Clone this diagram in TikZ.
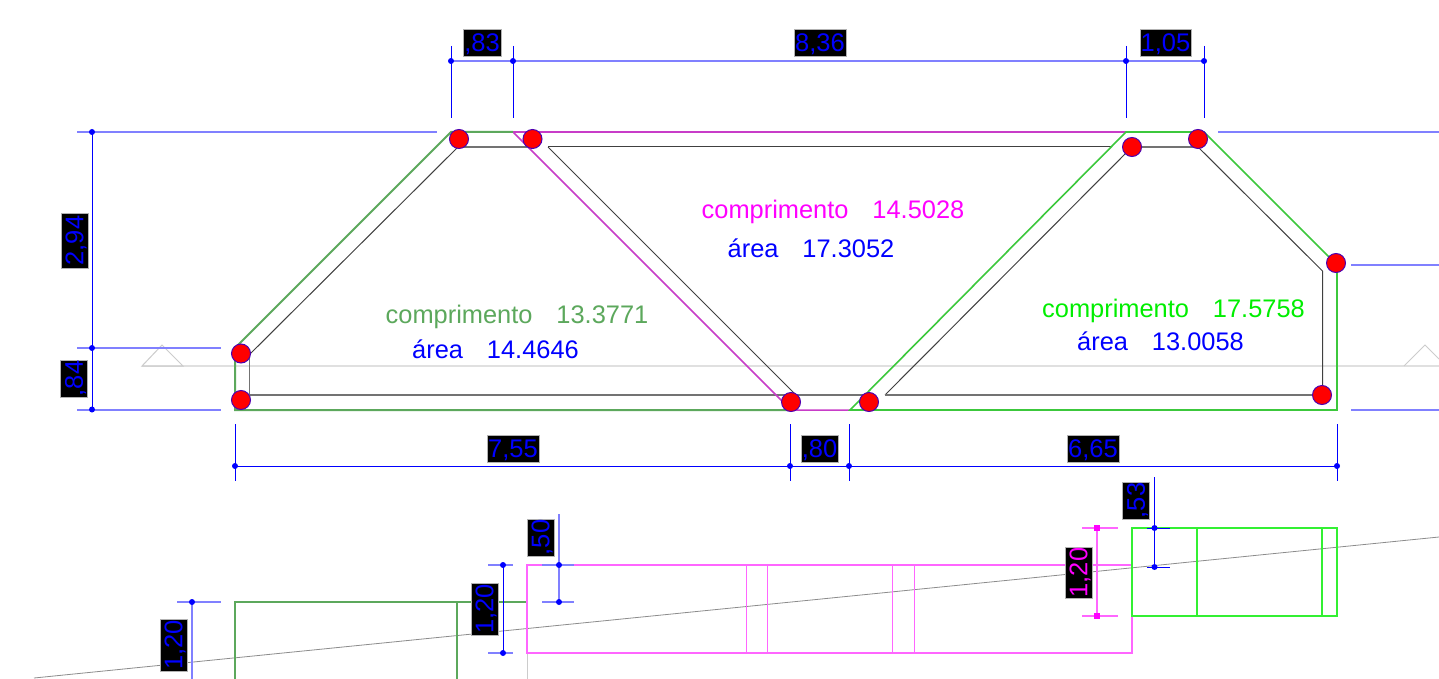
\documentclass[tikz,border=0pt]{standalone}
\usepackage{fontspec}
\setmainfont{Liberation Sans}
\definecolor{dimblue}{HTML}{0000FF}
\definecolor{dimlight}{HTML}{8080FF}
\definecolor{dkgreen}{HTML}{5CA85C}
\definecolor{brgreen}{HTML}{3CC83C}
\definecolor{txgreen}{HTML}{00EE00}
\definecolor{trmag}{HTML}{C83CC8}
\definecolor{puremag}{HTML}{FF00FF}
\definecolor{rectmag}{HTML}{FF66FF}
\definecolor{rectgreen}{HTML}{33F033}
\tikzset{
  x=1pt,y=-1pt,
  dimthin/.style={draw=dimblue,line width=1pt},
  dimthick/.style={draw=dimlight,line width=2pt},
  magdim/.style={draw=rectmag,line width=1.6pt},
  dkline/.style={draw=dkgreen,line width=2pt},
  brline/.style={draw=brgreen,line width=1.6pt},
  magline/.style={draw=trmag,line width=1.5pt},
  inner/.style={draw=black!75,line width=1pt},
  innergray/.style={draw=black!55,line width=1.8pt},
  rectm/.style={draw=rectmag,line width=1.2pt},
  rectg/.style={draw=rectgreen,line width=1.1pt},
  slope/.style={draw=black!45,line width=0.8pt},
  horizon/.style={draw=black!12,line width=1.6pt},
  tri/.style={draw=black!20,line width=1pt},
  dimlabel/.style={fill=black,draw=black!30,line width=0.5pt,text=dimblue,font=\fontsize{25.5}{25.5}\selectfont,inner sep=0pt,minimum height=27pt,text depth=0pt},
  maglabel/.style={dimlabel,text=puremag},
  paneltext/.style={font=\fontsize{25.4}{27}\selectfont,inner sep=0pt,anchor=base},
  joint/.style={circle,fill=red,draw=blue!70!red,line width=1pt,minimum size=19pt,inner sep=0pt},
  dimdot/.style={circle,fill=dimblue,inner sep=0pt,minimum size=6pt},
  magdot/.style={rectangle,fill=puremag,inner sep=0pt,minimum size=5.5pt}
}
\begin{document}
\begin{tikzpicture}
\useasboundingbox[fill=white] (0,0) rectangle (1439,679);

% ground line and supports
\draw[horizon] (142,366) -- (1439,366);
\draw[tri] (142,366) -- (162,345) -- (183,366) -- cycle;
\draw[tri] (1404,366) -- (1425,345) -- (1439,359);

% truss inner outlines
\draw[inner] (250,354) -- (458,147);
\draw[innergray] (458,147) -- (532,147);
\draw[innergray] (249.5,357) -- (249.5,395);
\draw[innergray] (249.5,395) -- (869,395);
\draw[inner] (548,147) -- (1112,147);
\draw[inner] (548,147) -- (796,395);
\draw[inner] (885,395) -- (1127,152);
\draw[innergray] (885,395) -- (1322,395);
\draw[innergray] (1132,147) -- (1198,147);
\draw[inner] (1198,147) -- (1322.5,271) -- (1322.5,395);

% panel outlines
\draw[magline,line width=2pt] (513,132) -- (1126,132);
\draw[magline] (513,132) -- (791,410) -- (850,410);
\draw[dkline] (513,132) -- (451,132) -- (235,348) -- (235,410) -- (791,410);
\draw[brline,line join=miter] (850,410) -- (1126,132) -- (1204,132) -- (1337,265) -- (1337,410) -- cycle;

% dimension extension lines, truss
\draw[dimthick] (77,132) -- (437,132);
\draw[dimthick] (1218,132) -- (1439,132);
\draw[dimthick] (1351,265) -- (1439,265);
\draw[dimthick] (77,348) -- (221,348);
\draw[dimthick] (77,409.5) -- (221,409.5);
\draw[dimthick] (1351,409.5) -- (1439,409.5);
\draw[dimthin] (92,132) -- (92,409.5);

\draw[dimthick,line width=1.5pt] (451,61) -- (1204,61);
\foreach \x in {451,513,1126,1204} \draw[dimthin] (\x,46) -- (\x,118);
\draw[dimthin] (235,466) -- (1337,466);
\foreach \x in {235,790,849,1337} \draw[dimthin] (\x,424) -- (\x,481);

% lower section
\draw[slope] (34,678) -- (1439,537);
\draw[dkline] (235,679) -- (235,602) -- (527,602);
\draw[dkline] (457,602) -- (457,679);
\draw[draw=black!20,line width=1pt] (527,653) -- (527,679);
\draw[rectm] (527,565) rectangle (1132,653);
\foreach \x in {746,767,892,914} \draw[rectm,line width=1pt] (\x,565) -- (\x,653);
\draw[rectg] (1132,528) rectangle (1337,616);
\foreach \x in {1197,1322} \draw[rectg] (\x,528) -- (\x,616);

% lower dimensions
\draw[dimthick,line width=1.5pt] (192,602) -- (192,679);
\draw[dimthick,line width=1.2pt] (177,602) -- (221,602);
\draw[dimthin] (503,565) -- (503,653);
\draw[dimthick,line width=1.2pt] (488,565) -- (513,565);
\draw[dimthick,line width=1.2pt] (488,653) -- (513,653);
\draw[dimthick,line width=1.5pt] (559,514) -- (559,602);
\draw[dimthick,line width=1.2pt] (542,565) -- (574,565);
\draw[dimthick,line width=1.2pt] (542,602) -- (574,602);
\draw[magdim] (1097,528) -- (1097,616);
\draw[magdim,line width=1.2pt] (1082,528) -- (1118,528);
\draw[magdim,line width=1.2pt] (1082,616) -- (1118,616);
\draw[dimthin] (1154.5,477) -- (1154.5,567);
\draw[dimthin] (1147,528) -- (1170,528);
\draw[dimthin] (1147,567) -- (1170,567);

% dimension dots
\foreach \i/\px/\py in {a/451/61,b/513/61,c/1126/61,d/1204/61,e/92/132,f/92/348,g/92/409.5,h/235/466,k/790/466,l/849/466,m/1337/466,n/192/602,o/503/565,p/503/653,q/559/565,r/559/602,s/1154.5/528,t/1154.5/567}
  \node[dimdot] (dot\i) at (\px,\py) {};
\node[magdot] (magtop) at (1097,528) {};
\node[magdot] (magbot) at (1097,616) {};

% joints
\foreach \i/\px/\py in {1/459/139,2/532.5/139,3/241/353.5,4/241/400,5/791/402,6/869/402,7/1132/147,8/1198/139,9/1336/263,10/1322/395}
  \node[joint] (joint\i) at (\px,\py) {};

% dimension labels
\node[dimlabel,minimum width=38pt] (d83) at (482,42.5) {,83};
\node[dimlabel,minimum width=52pt] (d836) at (820,42.5) {8,36};
\node[dimlabel,minimum width=51pt] (d105) at (1165.5,42.5) {1,05};
\node[dimlabel,minimum width=55pt,rotate=90] (d294) at (74.5,240.5) {2,94};
\node[dimlabel,minimum width=37pt,rotate=90] (d84) at (74,378.5) {,84};
\node[dimlabel,minimum width=52pt] (d755) at (513,449) {7,55};
\node[dimlabel,minimum width=37pt] (d80) at (819.5,448.5) {,80};
\node[dimlabel,minimum width=52pt] (d665) at (1093,449) {6,65};
\node[dimlabel,minimum width=37pt,rotate=90] (d53) at (1136,500.5) {,53};
\node[dimlabel,minimum width=37pt,rotate=90] (d50) at (540.5,537.5) {,50};
\node[maglabel,minimum width=51pt,rotate=90] (d120m) at (1078.5,572.5) {1,20};
\node[dimlabel,minimum width=52pt,rotate=90] (d120b) at (484.5,609) {1,20};
\node[dimlabel,minimum width=52pt,rotate=90] (d120a) at (173.5,645) {1,20};

% panel texts
\node[paneltext,text=dkgreen] (t1) at (517,323) {comprimento\hspace{24pt}13.3771};
\node[paneltext,text=dimblue] (t2) at (495.5,358.5) {área\hspace{24pt}14.4646};
\node[paneltext,text=puremag] (t3) at (833,218) {comprimento\hspace{24pt}14.5028};
\node[paneltext,text=dimblue] (t4) at (811,257) {área\hspace{24pt}17.3052};
\node[paneltext,text=txgreen] (t5) at (1173.5,317) {comprimento\hspace{24pt}17.5758};
\node[paneltext,text=dimblue] (t6) at (1160.5,350) {área\hspace{24pt}13.0058};
\end{tikzpicture}
\end{document}
